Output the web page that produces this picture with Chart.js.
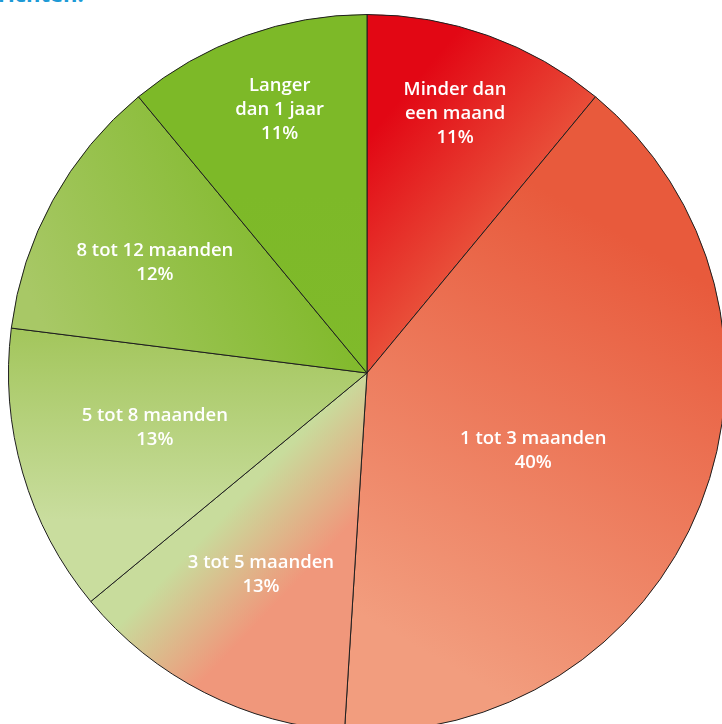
<!DOCTYPE html>
<html>
<head>
<meta charset="utf-8">
<script src="https://cdn.jsdelivr.net/npm/chart.js@4/dist/chart.umd.min.js"></script>
<style>
  html, body { margin: 0; padding: 0; background: #fff; overflow: hidden; width: 722px; height: 724px; }
  #title { position: absolute; left: -2px; top: -22px; font: bold 22px "Open Sans", sans-serif; color: #1d9ad6; white-space: nowrap; }
  #wrap { position: absolute; left: 8px; top: 14px; width: 718px; height: 718px; }
</style>
</head>
<body>
<div id="title">richten:</div>
<div id="wrap"><canvas id="pie"></canvas></div>
<script>
// Duur - aandeel per categorie (%)
const categorieen = [
    ['Minder dan', 'een maand'],
    ['1 tot 3 maanden'],
    ['3 tot 5 maanden'],
    ['5 tot 8 maanden'],
    ['8 tot 12 maanden'],
    ['Langer', 'dan 1 jaar']
];
const percentages = [11, 40, 13, 13, 12, 11];

// kleurverloop per stuk: [x0, y0, x1, y1] relatief t.o.v. middelpunt (in straal), plus kleuren
const verloop = [
    { p: [0.09, -0.76, 0.48, -0.43], c: ['#e20714', '#ea5e41'] },
    { p: [0.79, -0.34, 0.15, 0.77], c: ['#e85a3c', '#f29d7e'] },
    { p: [-0.47, 0.47, -0.27, 0.66], c: ['#c8dc9c', '#f0977b'] },
    { p: [-0.60, -0.12, -0.60, 0.41], c: ['#a3c65c', '#c9dd9e'] },
    { p: [-0.19, -0.48, -0.91, -0.15], c: ['#80b92a', '#a8c866'] },
    { p: [0, -0.5, 0, 0], c: ['#7db928', '#80ba2b'] }
];
// plaats van het label: afstand (fractie van de straal) en hoekcorrectie in graden
const labelAfstand = [0.77, 0.51, 0.63, 0.61, 0.67, 0.78];
const labelHoek = [-1.2, 3, 1, 2.2, -0.8, 1.6];

function kleur(ctx) {
    const chart = ctx.chart;
    const area = chart.chartArea;
    const v = verloop[ctx.dataIndex];
    if (!area || !v) return v ? v.c[0] : '#ccc';
    const cx = (area.left + area.right) / 2;
    const cy = (area.top + area.bottom) / 2;
    const r = Math.min(area.width, area.height) / 2;
    const g = chart.ctx.createLinearGradient(cx + v.p[0] * r, cy + v.p[1] * r, cx + v.p[2] * r, cy + v.p[3] * r);
    g.addColorStop(0, v.c[0]);
    g.addColorStop(1, v.c[1]);
    return g;
}

const labelPlugin = {
    id: 'sliceLabels',
    afterDatasetsDraw(chart) {
        const c = chart.ctx;
        const meta = chart.getDatasetMeta(0);
        c.save();
        c.fillStyle = '#ffffff';
        c.font = '600 18.5px "Open Sans", sans-serif';
        c.textAlign = 'center';
        c.textBaseline = 'middle';
        meta.data.forEach((arc, i) => {
            const mid = (arc.startAngle + arc.endAngle) / 2 + labelHoek[i] * Math.PI / 180;
            const d = arc.outerRadius * labelAfstand[i];
            const x = arc.x + Math.cos(mid) * d;
            const y = arc.y + Math.sin(mid) * d + 2;
            const regels = categorieen[i].concat([percentages[i] + '%']);
            const lh = 24;
            const y0 = y - (regels.length - 1) * lh / 2;
            regels.forEach((t, k) => c.fillText(t, x, y0 + k * lh));
        });
        c.restore();
    }
};

new Chart(document.getElementById('pie'), {
    type: 'pie',
    data: {
        labels: categorieen.map(l => l.join(' ')),
        datasets: [{
            data: percentages,
            backgroundColor: kleur,
            borderColor: '#1e1e1e',
            borderWidth: 1
        }]
    },
    options: {
        responsive: true,
        maintainAspectRatio: false,
        animation: false,
        layout: { padding: 0 },
        plugins: { legend: { display: false }, tooltip: { enabled: false } }
    },
    plugins: [labelPlugin]
});
</script>
</body>
</html>
